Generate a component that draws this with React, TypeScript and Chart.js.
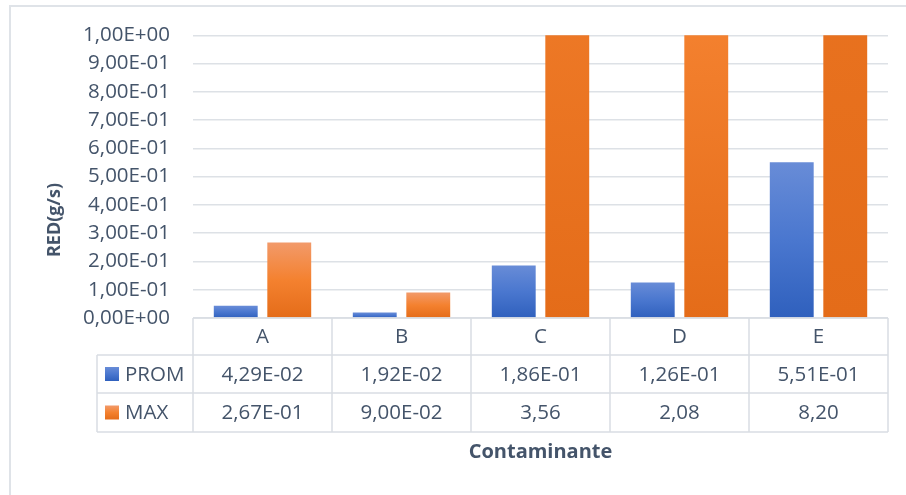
import React, { useEffect, useRef } from "react";
import { Chart, registerables } from "chart.js";

Chart.register(...registerables);

const categories = ["A", "B", "C", "D", "E"];
const promValues = [0.0429, 0.0192, 0.186, 0.126, 0.551];
const maxValues = [0.267, 0.09, 3.56, 2.08, 8.2];
const seriesNames = ["PROM", "MAX"];
const yAxisTitle = "RED(g/s)";
const xAxisTitle = "Contaminante";

const TEXT = "#44546a";
const LINE = "#d9dde3";
const FONT = "'Open Sans', sans-serif";
const FS = 20.5;

function fmtExp(v: number): string {
  const s = v.toExponential(2);
  const [m, e] = s.split("e");
  const n = parseInt(e, 10);
  const sign = n < 0 ? "-" : "+";
  const ab = Math.abs(n);
  return m.replace(".", ",") + "E" + sign + (ab < 10 ? "0" + ab : String(ab));
}
function fmtVal(v: number): string {
  if (v < 1) return fmtExp(v);
  return v.toFixed(2).replace(".", ",");
}

function gradFill(stops: string[]) {
  return (ctx: any) => {
    const chart = ctx.chart;
    if (ctx.type !== "data" || !chart.chartArea) return stops[1];
    const y = chart.scales.y;
    const top = y.getPixelForValue(ctx.raw);
    const base = y.getPixelForValue(0);
    if (!isFinite(top) || Math.abs(base - top) < 1) return stops[1];
    const g = chart.ctx.createLinearGradient(0, top, 0, base);
    g.addColorStop(0, stops[0]);
    g.addColorStop(0.5, stops[1]);
    g.addColorStop(1, stops[2]);
    return g;
  };
}

const blueStops = ["#688cd7", "#4a77cf", "#2f60bd"];
const orangeStops = ["#f29a6a", "#f4812f", "#e46c19"];

const tablePlugin = {
  id: "tablePlugin",
  afterDraw(chart: any) {
    const ctx = chart.ctx;
    const x = chart.scales.x;
    const area = chart.chartArea;
    const left = area.left;
    const right = area.right;
    const colW = (right - left) / categories.length;
    const y0 = area.bottom;
    const y1 = y0 + 37;
    const y2 = y1 + 38;
    const y3 = y2 + 39;
    const legendLeft = 97;
    ctx.save();
    // outer frame
    ctx.strokeStyle = "#dfe3e8";
    ctx.lineWidth = 2;
    ctx.beginPath();
    ctx.moveTo(10, 495);
    ctx.lineTo(10, 6);
    ctx.lineTo(906, 6);
    ctx.stroke();

    ctx.strokeStyle = LINE;
    ctx.lineWidth = 1.5;
    ctx.beginPath();
    ctx.moveTo(left, y0);
    ctx.lineTo(right, y0);
    [y1, y2, y3].forEach((yy) => {
      ctx.moveTo(legendLeft, yy);
      ctx.lineTo(right, yy);
    });
    ctx.moveTo(legendLeft, y1);
    ctx.lineTo(legendLeft, y3);
    for (let i = 0; i <= categories.length; i++) {
      const xx = left + i * colW;
      ctx.moveTo(xx, y0);
      ctx.lineTo(xx, y3);
    }
    ctx.stroke();

    ctx.fillStyle = TEXT;
    ctx.font = FS + "px " + FONT;
    ctx.textAlign = "center";
    ctx.textBaseline = "middle";
    categories.forEach((c, i) => {
      const cx = x.getPixelForValue(i);
      ctx.fillText(c, cx, (y0 + y1) / 2 + 1);
      ctx.fillText(fmtVal(promValues[i]), cx, (y1 + y2) / 2 + 1);
      ctx.fillText(fmtVal(maxValues[i]), cx, (y2 + y3) / 2 + 1);
    });
    // legend keys
    const rows = [(y1 + y2) / 2, (y2 + y3) / 2];
    rows.forEach((ry, k) => {
      const stops = k === 0 ? blueStops : orangeStops;
      const g = ctx.createLinearGradient(0, ry - 7, 0, ry + 7);
      g.addColorStop(0, stops[0]);
      g.addColorStop(0.5, stops[1]);
      g.addColorStop(1, stops[2]);
      ctx.fillStyle = g;
      ctx.fillRect(105, ry - 7, 14, 14);
      ctx.fillStyle = TEXT;
      ctx.textAlign = "left";
      ctx.fillText(seriesNames[k], 125, ry + 1);
    });
    // x title
    ctx.font = "bold 20px " + FONT;
    ctx.textAlign = "center";
    ctx.fillText(xAxisTitle, (left + right) / 2, 452);
    // y title
    ctx.font = "bold 18px " + FONT;
    ctx.translate(55, 220);
    ctx.rotate(-Math.PI / 2);
    ctx.fillText(yAxisTitle, 0, 0);
    ctx.restore();
  },
};

export default function App() {
  const ref = useRef<HTMLCanvasElement>(null);
  useEffect(() => {
    if (!ref.current) return;
    const chart = new Chart(ref.current, {
      type: "bar",
      data: {
        labels: categories,
        datasets: [
          {
            label: seriesNames[0],
            data: promValues,
            backgroundColor: gradFill(blueStops),
            borderWidth: 0,
            categoryPercentage: 0.77,
            barPercentage: 0.82,
            clip: 0,
          },
          {
            label: seriesNames[1],
            data: maxValues,
            backgroundColor: gradFill(orangeStops),
            borderWidth: 0,
            categoryPercentage: 0.77,
            barPercentage: 0.82,
            clip: 0,
          },
        ],
      },
      options: {
        responsive: false,
        animation: false,
        layout: { padding: { left: 0, top: 35, right: 18, bottom: 177 } },
        plugins: {
          legend: { display: false },
          tooltip: { enabled: false },
          title: { display: false },
        },
        scales: {
          x: { display: false },
          y: {
            min: 0,
            max: 1,
            border: { display: false },
            grid: { color: "#dde1e6", lineWidth: 1.5, drawTicks: false },
            ticks: {
              stepSize: 0.1,
              padding: 23,
              color: TEXT,
              font: { family: FONT, size: FS },
              callback: (v: any) => fmtExp(Number(v)),
            },
            afterFit: (scale: any) => {
              scale.width = 193;
            },
          },
        },
      },
      plugins: [tablePlugin],
    });
    return () => chart.destroy();
  }, []);
  return (
    <div style={{ position: "fixed", left: 0, top: 0, width: 906, height: 495, background: "#fff" }}>
      <canvas ref={ref} width={906} height={495} style={{ display: "block" }} />
    </div>
  );
}
